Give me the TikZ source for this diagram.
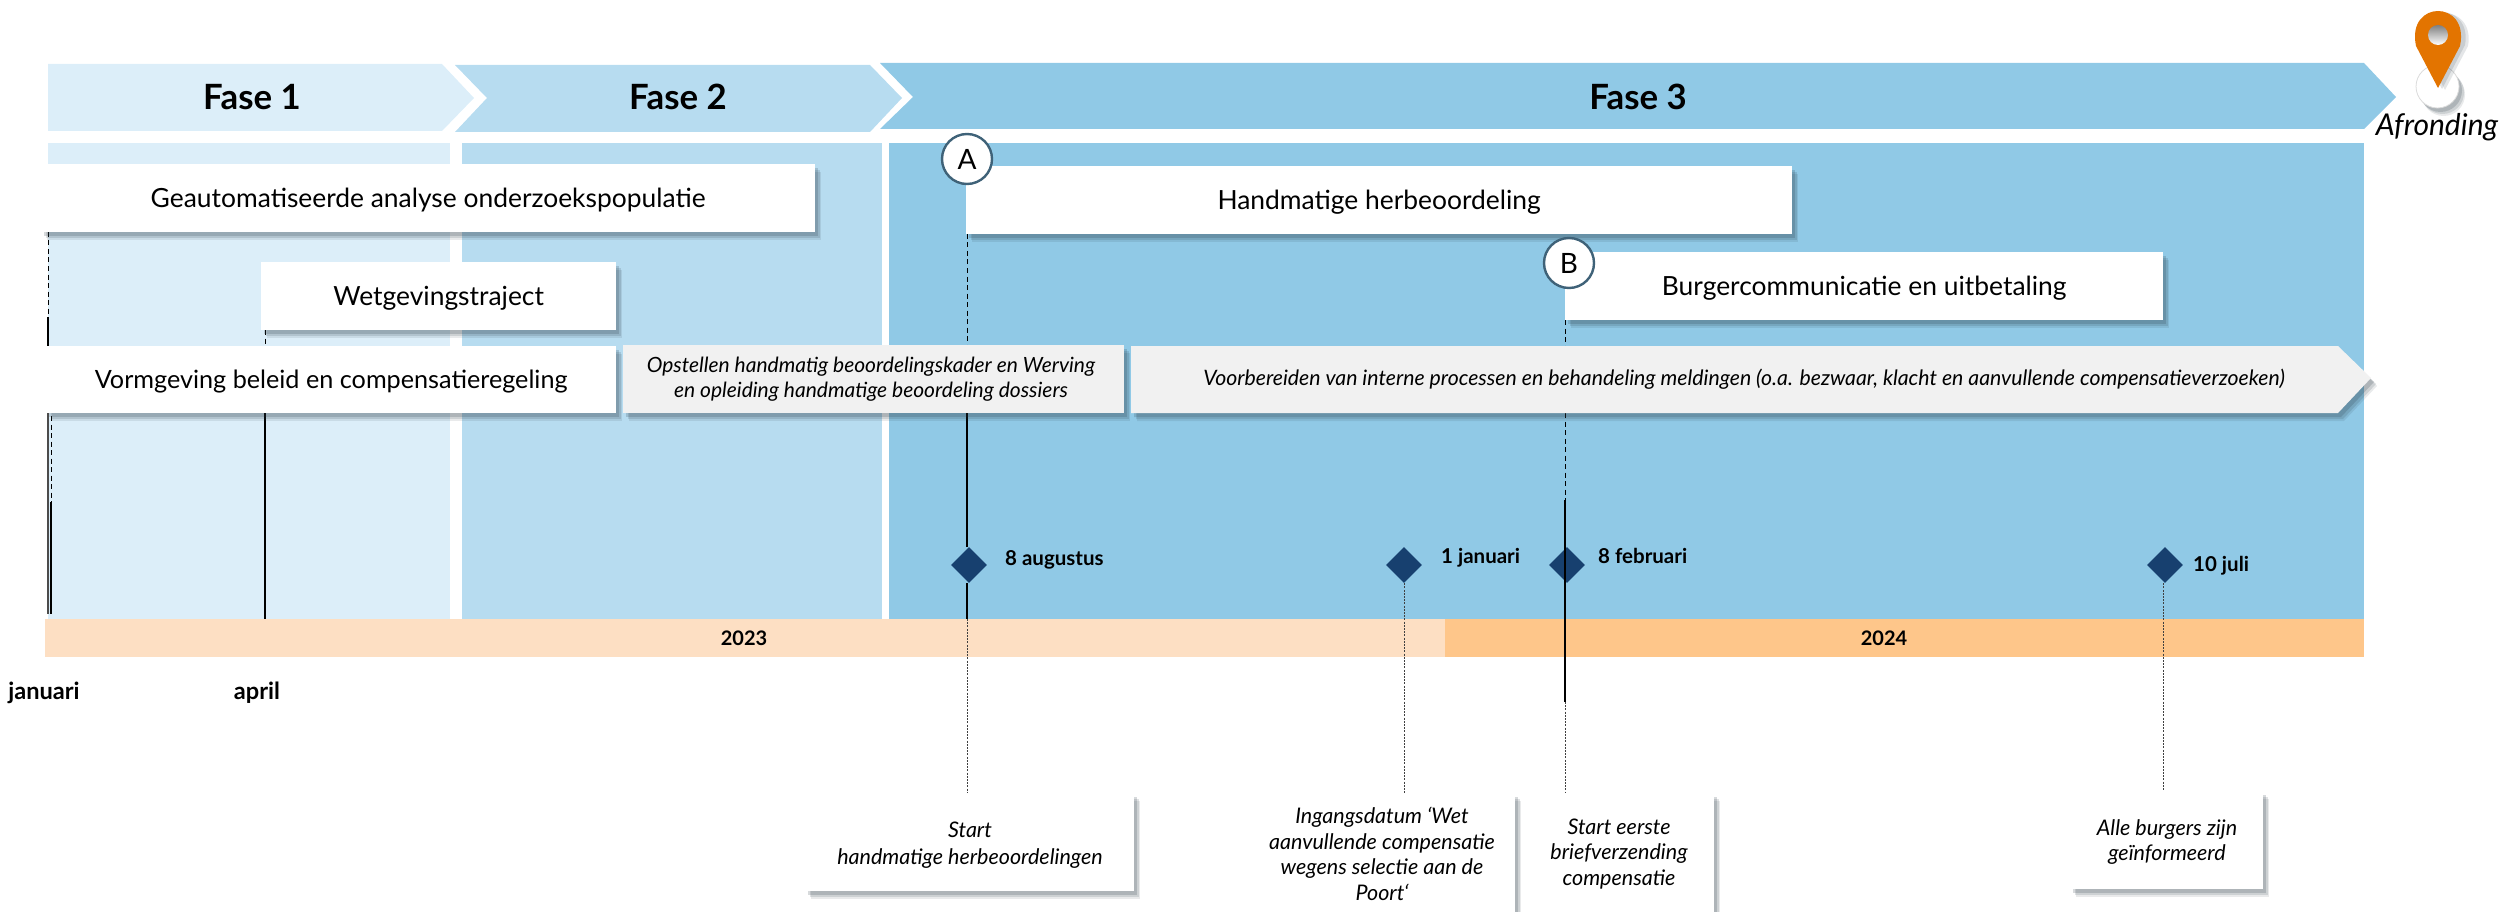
\documentclass[tikz,border=0pt]{standalone}
\usepackage{fontspec}
\setmainfont{Lato}
\usetikzlibrary{shadows,shapes.geometric}
\definecolor{ph1}{HTML}{DCEEF9}
\definecolor{ph2}{HTML}{B7DCF0}
\definecolor{ph3}{HTML}{90C9E6}
\definecolor{yr1}{HTML}{FDDFC3}
\definecolor{yr2}{HTML}{FEC68A}
\definecolor{grayb}{HTML}{F1F1F1}
\definecolor{mile}{HTML}{17406F}
\definecolor{ringc}{HTML}{3F6278}
\definecolor{pinc}{HTML}{E37400}
\definecolor{shad}{HTML}{24343F}
\newcommand{\bx}[7]{\pgfmathsetmacro\bw{#4-#2}\pgfmathsetmacro\bh{#5-#3}\node[#6,minimum width=\bw pt,minimum height=\bh pt,anchor=north west,inner sep=0pt,align=center] (#1) at (#2,#3) {#7};}
\tikzset{
 softshadow/.style={
  general shadow={shadow xshift=6pt,shadow yshift=-8pt,fill=shad,opacity=.10},
  general shadow={shadow xshift=5pt,shadow yshift=-6pt,fill=shad,opacity=.14},
  general shadow={shadow xshift=3pt,shadow yshift=-4pt,fill=shad,opacity=.18}},
 whitebox/.style={fill=white,softshadow,font=\fontsize{26.4}{31}\selectfont,text height=24pt,text depth=6pt},
 graybox/.style={fill=grayb,softshadow,font=\fontsize{21}{25}\selectfont\itshape},
 notebox/.style={fill=white,softshadow},
 notetxt/.style={font=\fontsize{21.5}{25.5}\selectfont\itshape,inner sep=0pt,align=center},
 phasetxt/.style={font=\fontsize{34.8}{36}\selectfont\bfseries,inner sep=0pt},
 datetxt/.style={font=\fontsize{20.5}{22}\selectfont\bfseries,inner sep=0pt},
 yeartxt/.style={font=\fontsize{20}{22}\selectfont\bfseries,inner sep=0pt},
 monthtxt/.style={font=\fontsize{23.6}{26}\selectfont\bfseries,inner sep=0pt},
 dashline/.style={black,line width=1pt,dash pattern=on 5pt off 3.5pt},
 solidline/.style={black,line width=1.3pt},
 dotline/.style={black!75,line width=1pt,dash pattern=on 2pt off 1.2pt},
 miledia/.style={diamond,aspect=1,fill=mile,draw=none,minimum width=36pt,minimum height=36pt,inner sep=0pt},
 ringnode/.style={circle,draw=ringc,line width=2.4pt,fill=white,minimum size=50pt,inner sep=0pt,font=\fontsize{28}{30}\selectfont},
}
\begin{document}
\begin{tikzpicture}[x=1pt,y=-1pt]
\useasboundingbox (0,0) rectangle (2501,912);
% panels
\fill[ph1] (48,143) rectangle (450,619);
\fill[ph2] (462,143) rectangle (882,619);
\fill[ph3] (889,143) rectangle (2364,619);
% phase arrows
\fill[ph1] (48,64) -- (442,64) -- (474,98) -- (442,131) -- (48,131) -- cycle;
\fill[ph2] (455,65) -- (870,65) -- (902,98) -- (870,132) -- (455,132) -- (487,98) -- cycle;
\fill[ph3] (880,63) -- (2364,63) -- (2396,97) -- (2364,129) -- (880,129) -- (913,97) -- cycle;
\node[phasetxt] (f1) at (252,97) {Fase 1};
\node[phasetxt] (f2) at (678,97) {Fase 2};
\node[phasetxt] (f3) at (1638,97) {Fase 3};
% years
\bx{y23}{45}{619}{1445}{657}{fill=yr1}{}
\bx{y24}{1445}{619}{2364}{657}{fill=yr2}{}
\node[yeartxt] (t23) at (744,638) {2023};
\node[yeartxt] (t24) at (1884,638) {2024};
% boxes and anchors
\coordinate (xJan) at (48,0);
\coordinate (xJanB) at (51,0);
\coordinate (xApr) at (265,0);
\coordinate (xA) at (967,0);
\coordinate (xJ1) at (1404,0);
\coordinate (xB) at (1565,0);
\coordinate (xJul) at (2163,0);
\coordinate (barTop) at (0,619);
\coordinate (solB) at (0,500);
\coordinate (solBe) at (0,702);
\coordinate (solJ) at (0,317);
\coordinate (noteTop) at (0,793);
\coordinate (noteTopB) at (0,790);
% milestone diamonds
\node[miledia] (d1) at (969,565) {};
\node[miledia] (d2) at (1404,565) {};
\node[miledia] (d3) at (1567,565) {};
\node[miledia] (d4) at (2165,565) {};
% connectors behind the boxes
\draw[dashline] (xJan |- 0,232) -- (xJan |- solJ);
\draw[solidline] (xJan |- solJ) -- (xJan |- 0,346);
\draw[black!70,line width=1.6pt] (xJan |- 0,413) -- (xJan |- 0,614);
\draw[dashline] (xJanB |- 0,416) -- (xJanB |- 0,502);
\draw[solidline] (xJanB |- 0,502) -- (xJanB |- 0,614);
\draw[dashline] (xApr |- 0,330) -- (xApr |- 0,346);
\draw[solidline] (xApr |- 0,413) -- (xApr |- barTop);
\draw[dashline] (xA |- 0,234) -- (xA |- 0,346);
\draw[solidline] (xA |- 0,413) -- (d1.north -| xA);
\draw[solidline] (d1.south -| xA) -- (xA |- barTop);
\draw[dotline] (xA |- barTop) -- (xA |- noteTop);
\draw[dashline] (xB |- 0,320) -- (xB |- 0,346);
\draw[dashline] (xB |- 0,413) -- (xB |- solB);
\draw[solidline] (xB |- solB) -- (xB |- solBe);
\draw[dotline] (xB |- solBe) -- (xB |- noteTop);
\draw[dotline] (d2.south -| xJ1) -- (xJ1 |- noteTop);
\draw[dotline] (d4.south -| xJul) -- (xJul |- noteTopB);
% bars
\bx{geaut}{41}{164}{815}{232}{whitebox}{Geautomatiseerde analyse onderzoekspopulatie}
\bx{wet}{261}{262}{616}{330}{whitebox}{Wetgevingstraject}
\bx{vorm}{46}{346}{616}{413}{whitebox,font=\fontsize{25.2}{30}\selectfont}{Vormgeving beleid en compensatieregeling}
\bx{opst}{623}{345}{1124}{413}{graybox}{}
\node[inner sep=0pt,align=center,font=\fontsize{21}{25}\selectfont\itshape] (opstt) at (871,379) {Opstellen handmatig beoordelingskader en Werving\\en opleiding handmatige beoordeling dossiers};
\bx{hand}{966}{166}{1792}{234}{whitebox}{Handmatige herbeoordeling}
\bx{burg}{1565}{252}{2163}{320}{whitebox}{Burgercommunicatie en uitbetaling}
\fill[grayb,softshadow] (1131,346) -- (2338,346) -- (2371,378) -- (2338,413) -- (1131,413) -- cycle;
\node[font=\fontsize{21.25}{25}\selectfont\itshape,inner sep=0pt] (voor) at (1744,379) {Voorbereiden van interne processen en behandeling meldingen (o.a. bezwaar, klacht en aanvullende compensatieverzoeken)};
% rings
\node[ringnode] (A) at (967,159) {A};
\node[ringnode] (B) at (1569,263) {B};
% date labels
\node[datetxt,anchor=west] (l1) at (1005,560) {8 augustus};
\node[datetxt,anchor=west] (l2) at (1441,558) {1 januari};
\node[datetxt,anchor=west] (l3) at (1598,556) {8 februari};
\node[datetxt,anchor=west] (l4) at (2193,566) {10 juli};
\node[monthtxt] (jan) at (44,693) {januari};
\node[monthtxt] (apr) at (257,693) {april};
% note boxes
\bx{n1}{805}{793}{1134}{891}{notebox}{}
\node[notetxt] (n1t) at (970,845) {Start\\[1pt]handmatige herbeoordelingen};
\bx{n2}{1252}{793}{1515}{930}{notebox}{}
\node[notetxt] (n2t) at (1382,854) {Ingangsdatum ‘Wet\\aanvullende compensatie\\wegens selectie aan de\\Poort‘};
\bx{n3}{1522}{793}{1714}{930}{notebox}{}
\node[notetxt] (n3t) at (1619,854) {Start eerste\\briefverzending\\compensatie};
\bx{n4}{2070}{791}{2263}{889}{notebox}{}
\node[notetxt] (n4t) at (2167,842) {Alle burgers zijn\\geïnformeerd};
% pin
\node[circle,fill=white,draw=black!14,line width=.8pt,minimum size=43pt,inner sep=0pt,softshadow] (pinb) at (2437.5,86.5) {};
\fill[shad,opacity=.12] (2445,90) -- (2422,46) .. controls (2418,24) and (2432,13) .. (2445,13) .. controls (2458,13) and (2472,24) .. (2468,46) -- cycle;
\fill[shad,opacity=.14] (2442,89) -- (2419,45) .. controls (2415,23) and (2429,12) .. (2442,12) .. controls (2455,12) and (2469,23) .. (2465,45) -- cycle;
\fill[pinc] (2438,88) -- (2416,46) .. controls (2411,22) and (2425,11) .. (2438,11) .. controls (2451,11) and (2465,22) .. (2460,46) -- cycle;
\shade[top color=black!50,bottom color=white] (2438,35) circle[radius=10];
\node[font=\fontsize{30}{32}\selectfont\itshape,inner sep=0pt] (afr) at (2437,127) {Afronding};
\end{tikzpicture}
\end{document}
